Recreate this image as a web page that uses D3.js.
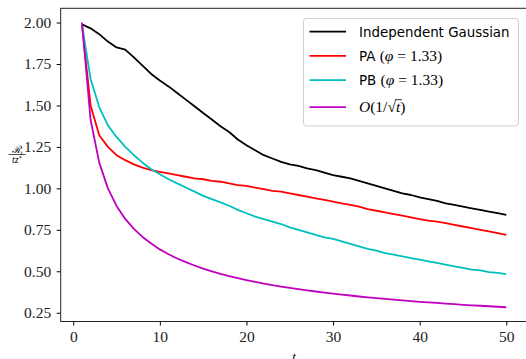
<!DOCTYPE html>
<html>
<head>
<meta charset="utf-8">
<script src="https://cdn.jsdelivr.net/npm/d3@7"></script>
<style>
  body { margin: 0; background: #fff; }
  svg { display: block; }
</style>
</head>
<body>
<div id="chart"></div>
<script>
// x values (iterations)
let steps = d3.range(1, 51);

// series
let gaussVals = [1.99,1.965,1.93,1.885,1.85,1.837,1.79,1.74,1.69,1.65,
  1.615,1.575,1.535,1.495,1.455,1.415,1.375,1.34,1.295,1.26,
  1.23,1.20,1.18,1.16,1.145,1.135,1.12,1.11,1.095,1.08,
  1.07,1.06,1.045,1.03,1.015,1.0,0.985,0.97,0.96,0.945,
  0.935,0.925,0.91,0.90,0.89,0.88,0.87,0.86,0.85,0.84];
let paVals = [1.99,1.50,1.32,1.25,1.20,1.17,1.145,1.125,1.11,1.10,
  1.09,1.08,1.07,1.06,1.055,1.045,1.04,1.03,1.02,1.015,
  1.005,0.995,0.985,0.98,0.97,0.96,0.95,0.94,0.93,0.92,
  0.91,0.90,0.89,0.875,0.865,0.855,0.845,0.835,0.825,0.815,
  0.805,0.80,0.79,0.78,0.77,0.76,0.75,0.74,0.73,0.72];
let pbVals = [1.99,1.66,1.49,1.38,1.31,1.25,1.20,1.155,1.115,1.085,
  1.055,1.03,1.005,0.98,0.955,0.935,0.915,0.895,0.87,0.85,
  0.83,0.815,0.80,0.785,0.765,0.75,0.735,0.72,0.705,0.695,
  0.68,0.665,0.65,0.635,0.625,0.61,0.60,0.59,0.58,0.57,
  0.56,0.55,0.54,0.53,0.52,0.51,0.505,0.495,0.49,0.483];
let rateVals = [2.0,1.414,1.155,1.0,0.894,0.816,0.756,0.707,0.667,0.632,
  0.603,0.577,0.555,0.535,0.516,0.5,0.485,0.471,0.459,0.447,
  0.436,0.426,0.417,0.408,0.4,0.392,0.385,0.378,0.371,0.365,
  0.359,0.354,0.348,0.343,0.338,0.333,0.329,0.324,0.32,0.316,
  0.312,0.309,0.305,0.302,0.298,0.295,0.292,0.289,0.286,0.283];

let xTicks = [0, 10, 20, 30, 40, 50];
let yTicks = [0.25, 0.50, 0.75, 1.00, 1.25, 1.50, 1.75, 2.00];

let seriesList = [
  { name: 'gauss', vals: gaussVals, color: '#000000' },
  { name: 'pa', vals: paVals, color: '#ff0000' },
  { name: 'pb', vals: pbVals, color: '#00bfbf' },
  { name: 'rate', vals: rateVals, color: '#bf00bf' }
];

let width = 526, height = 359;
let padL = 60.7, padT = 8.3, plotW = 466.8, plotH = 313.2;
let serif = '"Liberation Serif", "Times New Roman", serif';

let svg = d3.select('#chart').append('svg')
  .attr('width', width).attr('height', height);

// matplotlib style 5% margins
let xPad = (50 - 1) * 0.05;
let x = d3.scaleLinear().domain([1 - xPad, 50 + xPad]).range([padL, padL + plotW]);
let allVals = seriesList.flatMap(s => s.vals);
let yMin = d3.min(allVals), yMax = d3.max(allVals);
let yPad = (yMax - yMin) * 0.05;
let y = d3.scaleLinear().domain([yMin - yPad, yMax + yPad]).range([padT + plotH, padT]);

let line = d3.line().x((d, i) => x(steps[i])).y(d => y(d));

let g = svg.append('g');
g.append('defs').append('clipPath').attr('id', 'clip')
  .append('rect').attr('x', padL).attr('y', padT).attr('width', plotW).attr('height', plotH);

seriesList.forEach(s => {
  g.append('path')
    .datum(s.vals)
    .attr('clip-path', 'url(#clip)')
    .attr('d', line)
    .attr('fill', 'none')
    .attr('stroke', s.color)
    .attr('stroke-width', 1.8)
    .attr('stroke-linejoin', 'round');
});

// axes
let xAxis = svg.append('g')
  .attr('transform', 'translate(0,' + (padT + plotH) + ')')
  .call(d3.axisBottom(x).tickValues(xTicks).tickFormat(d3.format('d')).tickSize(4).tickPadding(5));
let yAxis = svg.append('g')
  .attr('transform', 'translate(' + padL + ',0)')
  .call(d3.axisLeft(y).tickValues(yTicks).tickFormat(d3.format('.2f')).tickSize(4).tickPadding(5.5));
[xAxis, yAxis].forEach(a => {
  a.attr('font-family', serif).attr('font-size', 15.5);
  a.select('.domain').remove();
  a.selectAll('.tick line').attr('stroke', '#000').attr('stroke-width', 1);
  a.selectAll('.tick text').attr('fill', '#222');
});

// spines
svg.append('rect')
  .attr('x', padL).attr('y', padT).attr('width', plotW).attr('height', plotH)
  .attr('fill', 'none').attr('stroke', '#222').attr('stroke-width', 1);

// x label
svg.append('text')
  .attr('x', padL + plotW / 2).attr('y', 360.5)
  .attr('text-anchor', 'middle')
  .attr('font-family', serif).attr('font-style', 'italic')
  .attr('font-size', 13)
  .text('t');

// y label: R_t / t z*
let yl = svg.append('g').attr('transform', 'translate(17,154.5)')
  .attr('font-family', serif).attr('font-size', 10);
let num = yl.append('text').attr('text-anchor', 'middle').attr('y', -2);
num.append('tspan').attr('font-style', 'italic').text('ℛ');
num.append('tspan').attr('font-style', 'italic').attr('font-size', 7).attr('dy', 2).text('t');
yl.append('line').attr('x1', -8.5).attr('x2', 8.5).attr('y1', 0).attr('y2', 0)
  .attr('stroke', '#000').attr('stroke-width', 0.7);
let den = yl.append('text').attr('text-anchor', 'middle').attr('y', 8);
den.append('tspan').attr('font-style', 'italic').text('tz');
den.append('tspan').attr('font-size', 7).attr('dy', -3).text('*');

// legend
let lg = svg.append('g').attr('font-family', '"DejaVu Sans", sans-serif').attr('font-size', 13.4);
lg.append('rect')
  .attr('x', 303.5).attr('y', 18.5).attr('width', 215).attr('height', 107.5)
  .attr('rx', 3).attr('fill', '#fff').attr('fill-opacity', 0.8)
  .attr('stroke', '#d0d0d0').attr('stroke-width', 1);
let rowsY = [31.7, 55.8, 80.1, 107.2];
seriesList.forEach((s, i) => {
  lg.append('line')
    .attr('x1', 309.5).attr('x2', 346).attr('y1', rowsY[i]).attr('y2', rowsY[i])
    .attr('stroke', s.color).attr('stroke-width', 1.8);
});
let labelX = 359;
lg.append('text').attr('x', labelX).attr('y', rowsY[0] + 5).text('Independent Gaussian');
['PA', 'PB'].forEach((nm, k) => {
  let t = lg.append('text').attr('x', labelX).attr('y', rowsY[k + 1] + 5);
  t.append('tspan').text(nm + ' ');
  t.append('tspan').attr('font-family', serif).attr('font-size', 15.5).text('(');
  t.append('tspan').attr('font-family', serif).attr('font-size', 15.5)
    .attr('font-style', 'italic').text('φ');
  t.append('tspan').attr('font-family', serif).attr('font-size', 15.5).text(' = 1.33)');
});
let rt = lg.append('text').attr('x', labelX).attr('y', rowsY[3] + 5)
  .attr('font-family', serif).attr('font-size', 15.5);
rt.append('tspan').attr('font-style', 'italic').text('O');
rt.append('tspan').text('(1/√');
rt.append('tspan').attr('id', 'sqt').attr('font-style', 'italic').text('t');
rt.append('tspan').text(')');
// overline of the root
let sq = document.getElementById('sqt').getBBox();
lg.append('line').attr('x1', sq.x - 1).attr('x2', sq.x + sq.width + 1)
  .attr('y1', sq.y + 1.5).attr('y2', sq.y + 1.5)
  .attr('stroke', '#000').attr('stroke-width', 0.8);
</script>
</body>
</html>
